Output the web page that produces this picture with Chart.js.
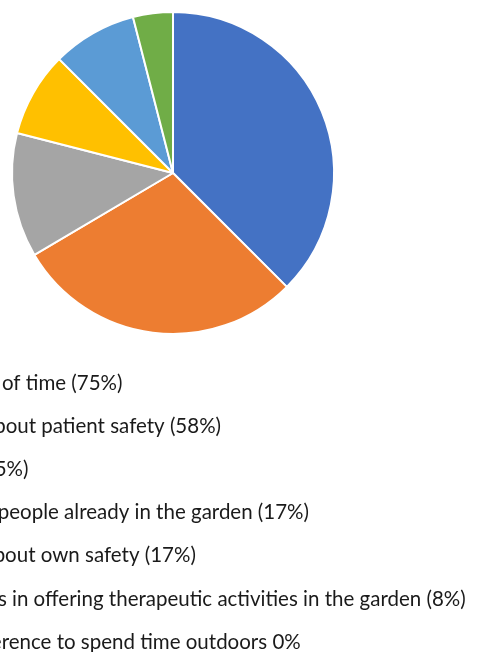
<!DOCTYPE html>
<html>
<head>
<meta charset="utf-8">
<script src="https://cdn.jsdelivr.net/npm/chart.js@4.4.1/dist/chart.umd.min.js"></script>
<style>
    body { margin: 0; background: #fff; }
    #wrap { width: 478px; height: 652px; position: relative; }
</style>
</head>
<body>
<div id="wrap"><canvas id="barreras"></canvas></div>
<script>
// categories (legend text) and percentage of respondents
const etiquetas = [
    'Constraints of time (75%)',
    'Concerns about patient safety (58%)',
    'Weather (25%)',
    'Distracting people already in the garden (17%)',
    'Worrying about own safety (17%)',
    'Lack of skills in offering therapeutic activities in the garden (8%)',
    'Lower preference to spend time outdoors 0%'
];
const valores = [75, 58, 25, 17, 17, 8, 0];
const colores = ['#4472C4', '#ED7D31', '#A5A5A5', '#FFC000', '#5B9BD5', '#70AD47', '#264478'];

// legend drawn as a list under the pie, left edge sits outside the picture
const leyendaLista = {
    id: 'leyendaLista',
    afterDraw(chart) {
        const ctx = chart.ctx;
        const colors = chart.data.datasets[0].backgroundColor;
        ctx.save();
        ctx.font = '20.5px Lato';
        ctx.textBaseline = 'middle';
        ctx.textAlign = 'left';
        chart.data.labels.forEach((txt, i) => {
            const y = 383 + i * 43.2;
            ctx.fillStyle = colors[i];
            ctx.fillRect(-128, y - 6, 12, 12);
            ctx.fillStyle = '#1a1a1a';
            ctx.fillText(txt, -106, y);
        });
        ctx.restore();
    }
};

const ctx1 = document.getElementById('barreras').getContext('2d');
const barreras = new Chart(ctx1, {
    type: 'pie',
    data: {
        labels: etiquetas,
        datasets: [{
            data: valores,
            backgroundColor: colores,
            borderColor: '#ffffff',
            borderWidth: 2
        }]
    },
    options: {
        animation: false,
        responsive: true,
        maintainAspectRatio: false,
        layout: {
            padding: { left: 11, top: 11, right: 143, bottom: 317 }
        },
        plugins: {
            legend: { display: false },
            tooltip: { enabled: false }
        }
    },
    plugins: [leyendaLista]
});
</script>
</body>
</html>
